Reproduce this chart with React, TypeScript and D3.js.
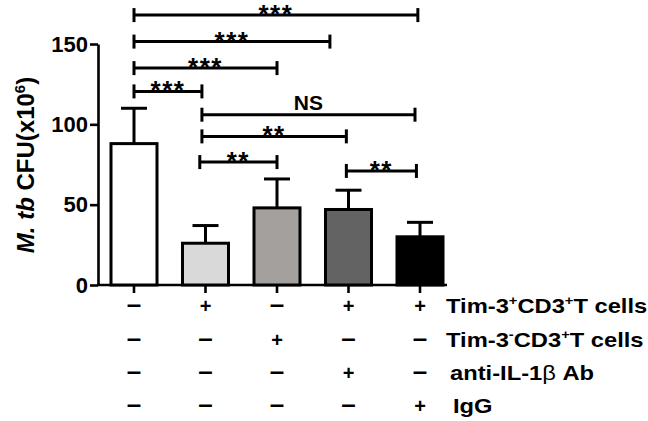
import React, { useEffect, useRef } from 'react';
import * as d3 from 'd3';

const means = [88, 26, 48, 47, 30];
const errs = [22, 11, 18, 12, 9];
const fills = ['#ffffff', '#d9d9d9', '#a4a09e', '#636363', '#000000'];
const yTicks = [0, 50, 100, 150];

// condition table (1 = +, 0 = –); "|x|" marks a superscript
const rowLabels = ['Tim-3|+|CD3|+|T cells', 'Tim-3|-|CD3|+|T cells', 'anti-IL-1β Ab', 'IgG'];
const rowSigns = [
  [0, 1, 0, 1, 1],
  [0, 0, 1, 0, 0],
  [0, 0, 0, 1, 0],
  [0, 0, 0, 0, 1],
];

// significance brackets: from group, to group, level (in y units), label
const brackets = [
  { from: 0, to: 3.97, h: 168, label: '***' },
  { from: 0, to: 2.74, h: 151.5, label: '***' },
  { from: 0, to: 2.0, h: 135, label: '***' },
  { from: 0, to: 0.95, h: 120.5, label: '***' },
  { from: 0.95, to: 3.93, h: 106, label: 'NS' },
  { from: 0.95, to: 2.97, h: 92.5, label: '**' },
  { from: 0.92, to: 2.0, h: 76.5, label: '**' },
  { from: 2.97, to: 3.95, h: 71, label: '**' },
];

const FONT = "'Liberation Sans', Arial, sans-serif";

const App = () => {
  const ref = useRef<SVGSVGElement>(null);

  useEffect(() => {
    const svg = d3.select(ref.current);
    svg.selectAll('*').remove();
    svg.attr('font-family', FONT);

    const x = d3.scaleLinear().domain([0, 4]).range([134, 420]);
    const y = d3.scaleLinear().domain([0, 150]).range([285, 44]);
    const bw = 46;

    // y axis
    const ya = svg.append('g').attr('transform', 'translate(98,0)')
      .call(d3.axisLeft(y).tickValues(yTicks).tickSize(8).tickSizeOuter(0).tickPadding(2));
    ya.select('.domain').attr('stroke', '#000').attr('stroke-width', 2.6);
    ya.selectAll('.tick line').attr('stroke', '#000').attr('stroke-width', 2.6);
    ya.selectAll('.tick text').attr('font-size', 22).attr('font-weight', 'bold').attr('fill', '#000').attr('font-family', FONT);

    // x axis line + ticks
    svg.append('line').attr('x1', 97).attr('x2', 447).attr('y1', y(0)).attr('y2', y(0))
      .attr('stroke', '#000').attr('stroke-width', 2.6);
    svg.append('g').selectAll('line').data(means).join('line')
      .attr('x1', (_, i) => x(i)).attr('x2', (_, i) => x(i))
      .attr('y1', y(0)).attr('y2', y(0) + 8)
      .attr('stroke', '#000').attr('stroke-width', 2.6);

    // error bars
    const eb = svg.append('g').attr('stroke', '#000').attr('stroke-width', 3);
    means.forEach((m, i) => {
      eb.append('line').attr('x1', x(i)).attr('x2', x(i)).attr('y1', y(m)).attr('y2', y(m + errs[i]));
      eb.append('line').attr('x1', x(i) - 13).attr('x2', x(i) + 13).attr('y1', y(m + errs[i])).attr('y2', y(m + errs[i]));
    });

    // bars
    svg.append('g').selectAll('rect').data(means).join('rect')
      .attr('x', (_, i) => x(i) - bw / 2).attr('width', bw)
      .attr('y', d => y(d)).attr('height', d => y(0) - y(d))
      .attr('fill', (_, i) => fills[i]).attr('stroke', '#000').attr('stroke-width', 3);

    // brackets
    const bg = svg.append('g');
    brackets.forEach(b => {
      const x1 = x(b.from), x2 = x(b.to), yy = y(b.h);
      const g = bg.append('g').attr('stroke', '#000').attr('stroke-width', 3);
      g.append('line').attr('x1', x1).attr('x2', x2).attr('y1', yy).attr('y2', yy);
      g.append('line').attr('x1', x1).attr('x2', x1).attr('y1', yy - 7).attr('y2', yy + 7);
      g.append('line').attr('x1', x2).attr('x2', x2).attr('y1', yy - 7).attr('y2', yy + 7);
      const isNS = b.label === 'NS';
      bg.append('text').attr('x', (x1 + x2) / 2).attr('y', isNS ? yy - 5 : yy + 8)
        .attr('text-anchor', 'middle').attr('font-weight', 'bold')
        .attr('font-size', isNS ? 21 : 26).attr('letter-spacing', isNS ? 0 : 1.5)
        .text(b.label);
    });

    // condition table
    const rowY = [313, 347, 380, 413];
    const labelX = [446, 446, 450, 453];
    const tg = svg.append('g').attr('font-weight', 'bold').attr('fill', '#000');
    rowSigns.forEach((row, r) => {
      row.forEach((s, i) => {
        tg.append('text').attr('x', x(i)).attr('y', rowY[r]).attr('text-anchor', 'middle')
          .attr('font-size', s ? 20 : 26).text(s ? '+' : '–');
      });
      const t = tg.append('text').attr('transform', `translate(${labelX[r]},${rowY[r]}) scale(1.13,1)`)
        .attr('font-size', 21);
      const parts = rowLabels[r].split('|');
      let shift = 0;
      parts.forEach((p, k) => {
        if (k % 2 === 1) {
          t.append('tspan').attr('dy', -8).attr('font-size', 13).text(p);
          shift = 8;
        } else if (p.includes('β')) {
          const [a, c] = p.split('β');
          t.append('tspan').attr('dy', shift).text(a);
          t.append('tspan').attr('font-weight', 'normal').text('β');
          t.append('tspan').text(c);
          shift = 0;
        } else {
          t.append('tspan').attr('dy', shift).text(p);
          shift = 0;
        }
      });
    });

    // y title
    const yt = svg.append('text').attr('transform', 'translate(34,165) rotate(-90)')
      .attr('text-anchor', 'middle').attr('font-size', 24).attr('font-weight', 'bold');
    yt.append('tspan').attr('font-style', 'italic').text('M. tb');
    yt.append('tspan').text(' CFU(x10');
    yt.append('tspan').attr('dy', -9).attr('font-size', 15).text('6');
    yt.append('tspan').attr('dy', 9).text(')');
  }, []);

  return <svg ref={ref} width={648} height={421} style={{ position: 'absolute', left: 0, top: 0, background: '#fff' }} />;
};

export default App;
